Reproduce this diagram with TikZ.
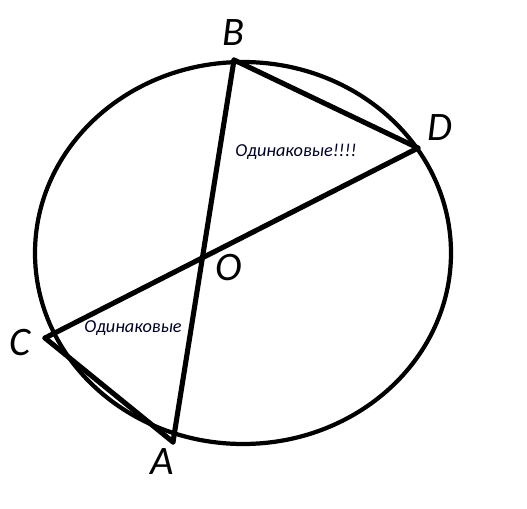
\documentclass[tikz,border=0pt]{standalone}
\usepackage{fontspec}
\setmainfont{Carlito}
\usetikzlibrary{positioning}

\begin{document}
\begin{tikzpicture}[x=0.01cm, y=-0.01cm, % one unit is one pixel
    chord/.style={line width=1.45pt, line cap=round, line join=round},
    letter/.style={font=\fontsize{11.5}{12}\selectfont\itshape},
    remark/.style={font=\fontsize{5.2}{6}\selectfont\itshape, text=black!85!blue}]
    \useasboundingbox (0,0) rectangle (527,509);

    % Circle
    \draw[line width=1.2pt] (243,253) ellipse [x radius=208, y radius=191];

    % Points
    \coordinate (B) at (234,60);
    \coordinate (D) at (418,148);
    \coordinate (C) at (45,338);
    \coordinate (A) at (173,442);

    % Chords
    \draw[chord] (B) -- (A);
    \draw[chord] (C) -- (D);
    \draw[chord] (B) -- (D);
    \draw[chord] (C) -- (A);

    % Letters
    \node[letter] (labelB) at (233,33) {B};
    \node[letter] (labelD) at (440,128) {D};
    \node[letter] (labelO) at (229,268) {O};
    \node[letter] (labelC) at (20,343) {C};
    \node[letter] (labelA) at (162,462) {A};

    % Remarks
    \node[remark] (same1) at (296,152) {Одинаковые!!!!};
    \node[remark] (same2) at (133,328) {Одинаковые};
\end{tikzpicture}
\end{document}
